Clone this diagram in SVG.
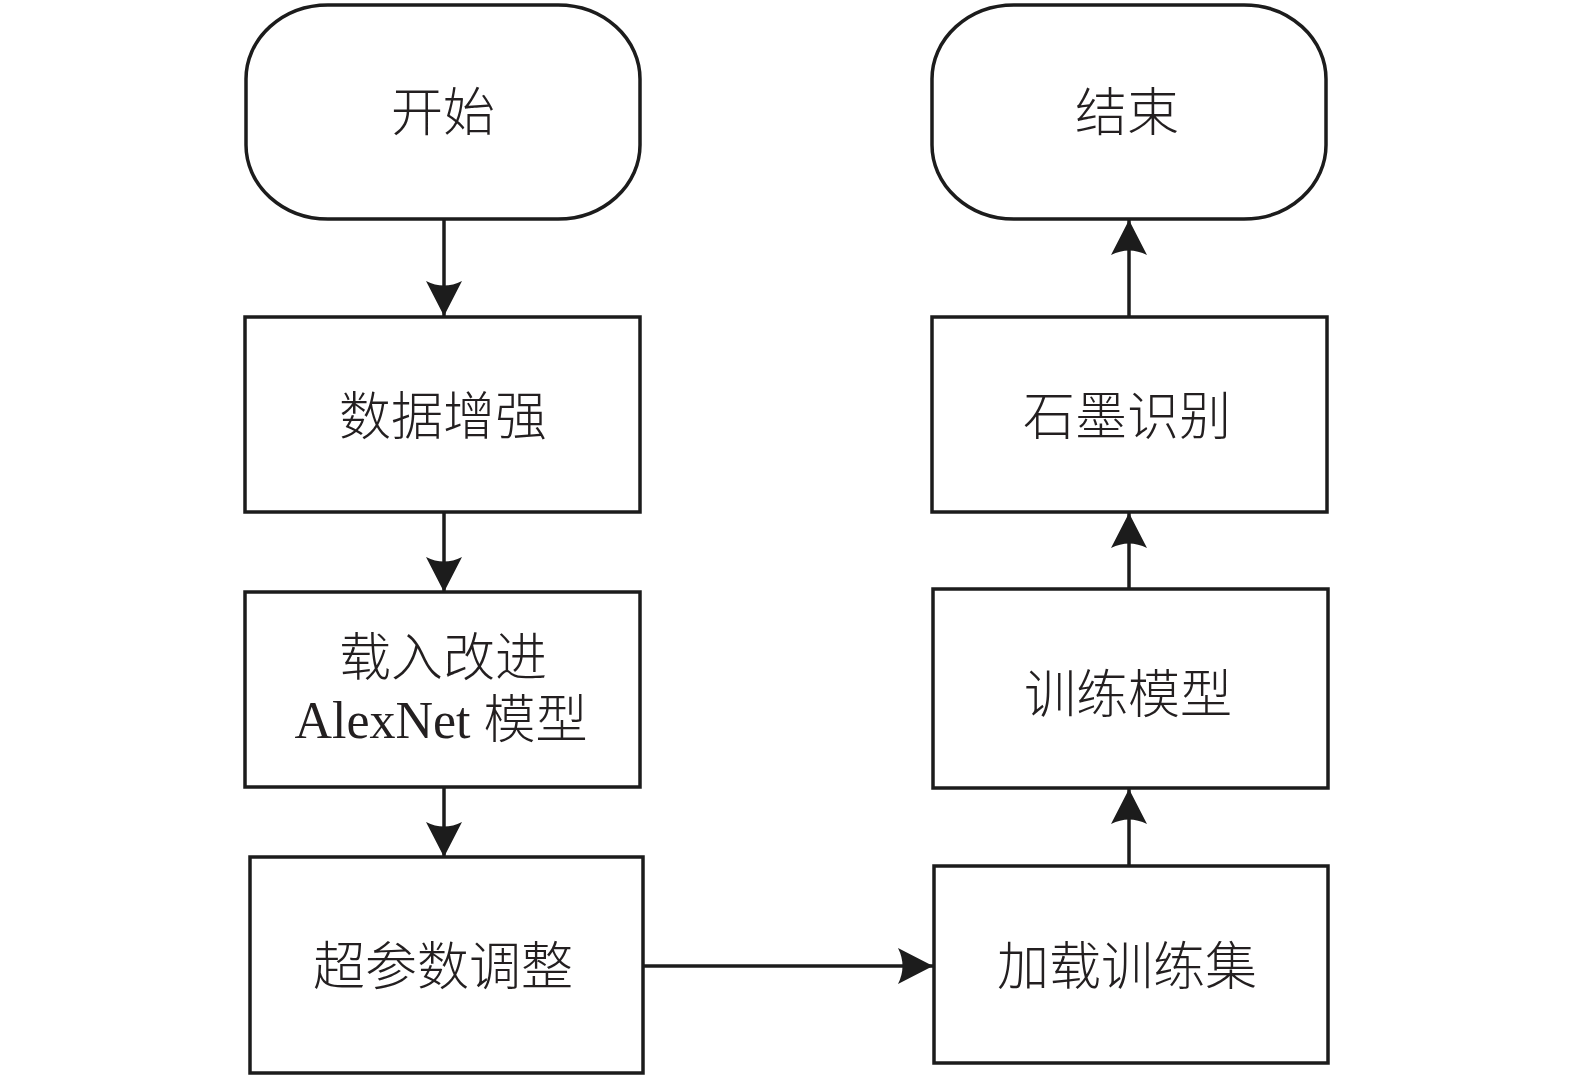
<svg xmlns="http://www.w3.org/2000/svg" width="1575" height="1079" viewBox="0 0 1575 1079">
<style>
.b{fill:#fff;stroke:#1c1c1c;stroke-width:3.5}
.t{font-family:"Liberation Serif","Noto Sans CJK SC",serif;font-size:52px;font-weight:300;fill:#231f20;text-anchor:middle}
.c{stroke:#1c1c1c;stroke-width:3.5;fill:none;marker-end:url(#ah)}
</style>
<defs>
<marker id="ah" viewBox="0 0 35 36" refX="35" refY="18" markerWidth="35" markerHeight="36" markerUnits="userSpaceOnUse" orient="auto">
<path d="M35,18 L0,0 Q9,18 0,36 Z" fill="#1c1c1c"/>
</marker>
</defs>
<rect width="1575" height="1079" fill="#fff"/>
<g id="start"><rect class="b" x="246" y="5" width="394" height="214" rx="82" ry="74"/><text class="t" x="443" y="131">开始</text></g>
<g id="augment"><rect class="b" x="245" y="317" width="395" height="195"/><text class="t" x="443" y="435">数据增强</text></g>
<g id="load-model"><rect class="b" x="245" y="592" width="395" height="195"/><text class="t" x="443" y="676">载入改进</text><text class="t" x="441" y="738">AlexNet 模型</text></g>
<g id="tune"><rect class="b" x="250" y="857" width="393" height="216"/><text class="t" x="443" y="985">超参数调整</text></g>
<g id="end"><rect class="b" x="932" y="5" width="394" height="214" rx="82" ry="74"/><text class="t" x="1127" y="131">结束</text></g>
<g id="recognize"><rect class="b" x="932" y="317" width="395" height="195"/><text class="t" x="1127" y="435">石墨识别</text></g>
<g id="train"><rect class="b" x="933" y="589" width="395" height="199"/><text class="t" x="1128" y="713">训练模型</text></g>
<g id="load-train"><rect class="b" x="934" y="866" width="394" height="197"/><text class="t" x="1127" y="985">加载训练集</text></g>
<g id="connectors">
<line class="c" x1="444" y1="219" x2="444" y2="316"/>
<line class="c" x1="444" y1="512" x2="444" y2="592"/>
<line class="c" x1="444" y1="787" x2="444" y2="857"/>
<line class="c" x1="643" y1="966" x2="933" y2="966"/>
<line class="c" x1="1129" y1="866" x2="1129" y2="789"/>
<line class="c" x1="1129" y1="589" x2="1129" y2="513"/>
<line class="c" x1="1129" y1="317" x2="1129" y2="220"/>
</g>
</svg>
